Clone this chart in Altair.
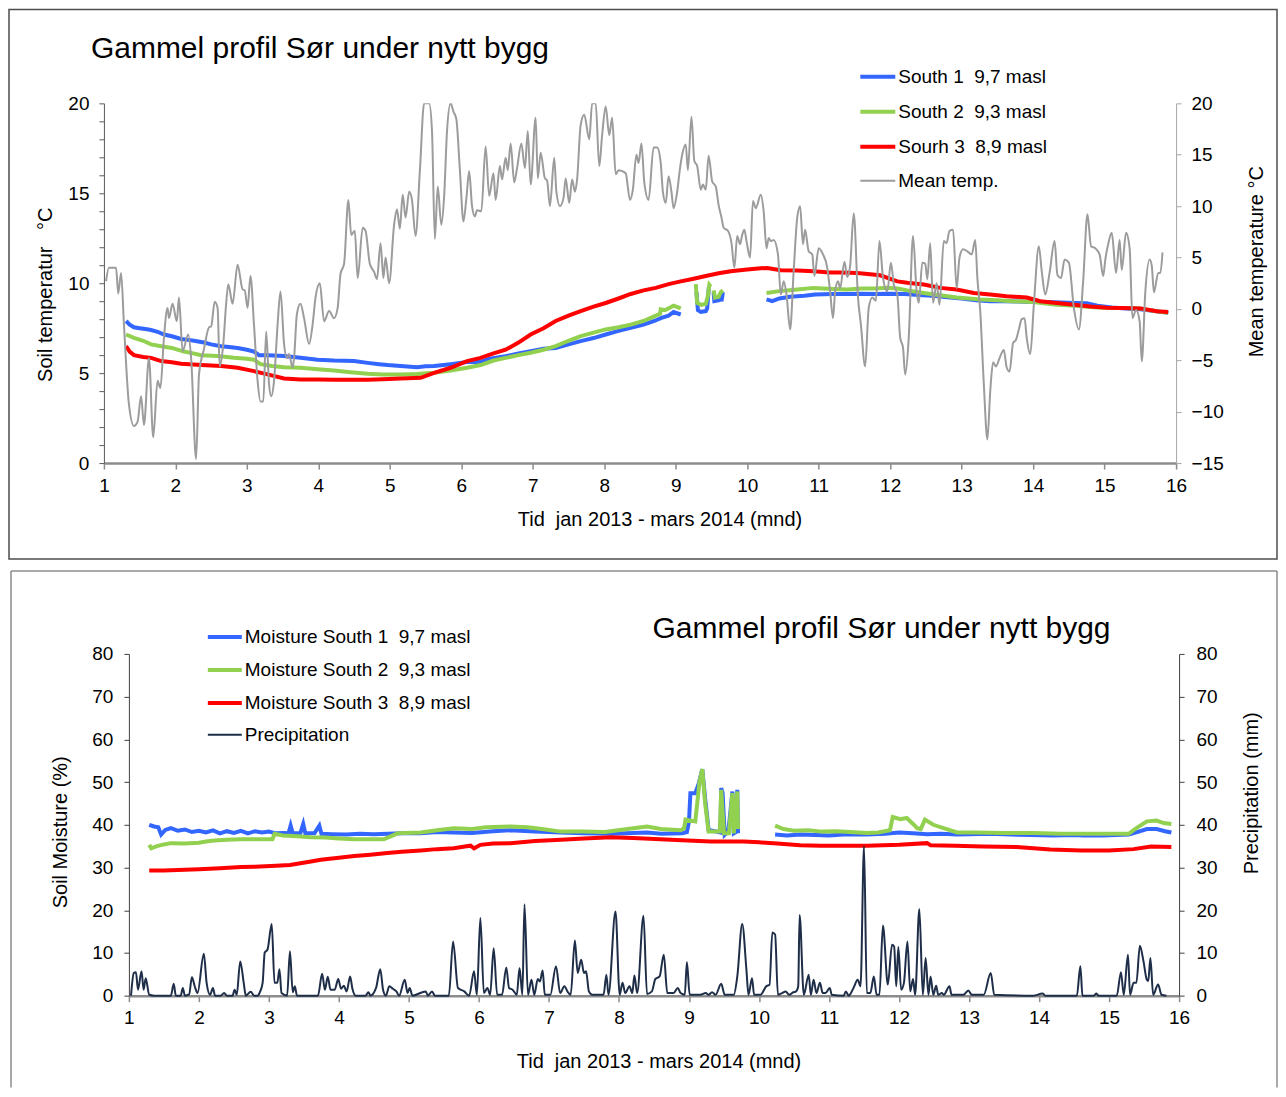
import altair as alt
import pandas as pd

FONT = "Liberation Sans"
NB = "\u00a0"
TITLE = "Gammel profil Sør under nytt bygg"
XTITLE = "Tid" + NB + " jan 2013 - mars 2014 (mnd)"
month_ticks = list(range(1, 17))

# ---------------- top panel: soil temperature ----------------
S1 = "South 1" + NB + " 9,7 masl"
S2 = "South 2" + NB + " 9,3 masl"
S3 = "Sourh 3" + NB + " 8,9 masl"
MT = "Mean temp."

south1_temp = [
    [(1.31, 7.9), (1.36, 7.7), (1.42, 7.55), (1.50, 7.5), (1.58, 7.45), (1.66, 7.4), (1.75, 7.3),
     (1.84, 7.15), (1.95, 7.05), (2.08, 6.9), (2.18, 6.85), (2.26, 6.8), (2.40, 6.7), (2.50, 6.6),
     (2.64, 6.5), (2.75, 6.45), (2.87, 6.4), (3.00, 6.3), (3.10, 6.2), (3.17, 6.0), (3.30, 6.0),
     (3.52, 5.95), (3.75, 5.85), (3.99, 5.75), (4.22, 5.7), (4.50, 5.67), (4.69, 5.57), (4.85, 5.5),
     (4.97, 5.45), (5.15, 5.4), (5.38, 5.33), (5.50, 5.38), (5.62, 5.4), (5.85, 5.5), (6.08, 5.62),
     (6.27, 5.62), (6.40, 5.8), (6.62, 5.94), (6.80, 6.1), (6.97, 6.22), (7.15, 6.35), (7.32, 6.4),
     (7.50, 6.6), (7.67, 6.78), (7.85, 6.95), (8.02, 7.15), (8.20, 7.35), (8.37, 7.52), (8.55, 7.7),
     (8.70, 7.9), (8.80, 8.07), (8.90, 8.2), (8.97, 8.4), (9.07, 8.26)],
    [(9.29, 9.5), (9.31, 8.5), (9.35, 8.4), (9.42, 8.45), (9.44, 8.6), (9.46, 9.6), (9.48, 9.55)],
    [(9.53, 9.5), (9.54, 9.0), (9.60, 9.05), (9.62, 9.35), (9.64, 9.0), (9.66, 9.5)],
    [(10.27, 9.1), (10.35, 9.0), (10.45, 9.15), (10.6, 9.25), (10.8, 9.3), (10.95, 9.37), (11.2, 9.4),
     (11.4, 9.4), (11.6, 9.42), (11.8, 9.4), (12.0, 9.42), (12.2, 9.4), (12.4, 9.35), (12.6, 9.3),
     (12.8, 9.22), (13.0, 9.15), (13.2, 9.05), (13.4, 9.0), (13.6, 9.0), (13.8, 8.98), (14.0, 8.96),
     (14.2, 8.95), (14.4, 8.93), (14.6, 8.9), (14.75, 8.88), (14.9, 8.75), (15.1, 8.65), (15.3, 8.6),
     (15.5, 8.55), (15.7, 8.45), (15.89, 8.35)],
]

south2_temp = [
    [(1.31, 7.15), (1.42, 6.96), (1.55, 6.8), (1.66, 6.6), (1.80, 6.5), (1.95, 6.4), (2.12, 6.2),
     (2.25, 6.1), (2.36, 6.0), (2.59, 5.95), (2.82, 5.85), (3.00, 5.8), (3.10, 5.75), (3.19, 5.5),
     (3.35, 5.4), (3.52, 5.33), (3.75, 5.3), (3.99, 5.22), (4.22, 5.15), (4.45, 5.05), (4.69, 4.96),
     (4.90, 4.93), (5.15, 4.93), (5.38, 4.95), (5.62, 5.02), (5.85, 5.15), (6.08, 5.3), (6.27, 5.45),
     (6.45, 5.7), (6.62, 5.85), (6.80, 6.0), (6.97, 6.13), (7.15, 6.3), (7.32, 6.5), (7.50, 6.8),
     (7.67, 7.06), (7.85, 7.25), (8.02, 7.43), (8.20, 7.55), (8.37, 7.7), (8.55, 7.9), (8.65, 8.07),
     (8.78, 8.3), (8.79, 8.55), (8.85, 8.5), (8.97, 8.75), (9.07, 8.6)],
    [(9.28, 9.95), (9.30, 8.9), (9.36, 8.8), (9.42, 8.85), (9.45, 9.3), (9.47, 9.9), (9.49, 9.8)],
    [(9.53, 9.6), (9.55, 9.2), (9.60, 9.25), (9.63, 9.5), (9.66, 9.6)],
    [(10.27, 9.46), (10.45, 9.56), (10.7, 9.65), (10.93, 9.74), (11.2, 9.68), (11.4, 9.65), (11.6, 9.7),
     (11.8, 9.7), (11.95, 9.75), (12.1, 9.7), (12.24, 9.6), (12.47, 9.46), (12.7, 9.33), (12.93, 9.2),
     (13.1, 9.15), (13.26, 9.1), (13.5, 9.05), (13.7, 9.0), (14.0, 8.96), (14.33, 8.8), (14.6, 8.75),
     (14.8, 8.68), (15.0, 8.63), (15.3, 8.62), (15.5, 8.6), (15.7, 8.45), (15.89, 8.35)],
]

south3_temp = [
    [(1.31, 6.5), (1.36, 6.2), (1.42, 6.0), (1.55, 5.9), (1.66, 5.85), (1.80, 5.67), (1.95, 5.6),
     (2.08, 5.52), (2.36, 5.45), (2.64, 5.4), (2.87, 5.3), (3.10, 5.11), (3.29, 4.93), (3.52, 4.7),
     (3.75, 4.65), (4.0, 4.64), (4.22, 4.63), (4.5, 4.63), (4.69, 4.63), (4.9, 4.66), (5.15, 4.7),
     (5.43, 4.74), (5.62, 5.02), (5.85, 5.3), (6.08, 5.67), (6.27, 5.85), (6.45, 6.1), (6.62, 6.3),
     (6.80, 6.7), (6.97, 7.15), (7.15, 7.5), (7.32, 7.9), (7.50, 8.2), (7.67, 8.45), (7.85, 8.7),
     (8.02, 8.9), (8.20, 9.15), (8.37, 9.4), (8.55, 9.6), (8.72, 9.74), (8.9, 9.95), (9.07, 10.1),
     (9.25, 10.25), (9.42, 10.4), (9.6, 10.55), (9.77, 10.67), (10.0, 10.76), (10.15, 10.82),
     (10.28, 10.85), (10.47, 10.72), (10.7, 10.7), (10.93, 10.67), (11.15, 10.6), (11.30, 10.6),
     (11.54, 10.57), (11.86, 10.44), (12.1, 10.1), (12.24, 10.02), (12.47, 9.93), (12.7, 9.74),
     (12.93, 9.65), (13.17, 9.46), (13.4, 9.37), (13.63, 9.28), (13.91, 9.2), (14.1, 9.0),
     (14.33, 8.9), (14.57, 8.8), (14.8, 8.7), (15.03, 8.63), (15.25, 8.62), (15.5, 8.6),
     (15.73, 8.44), (15.89, 8.4)],
]

mean_temp = [
    (1.03, 2.7), (1.07, 4.0), (1.17, 4.0), (1.20, 1.5), (1.24, 3.5), (1.28, -1.5), (1.35, -9.3),
    (1.42, -11.4), (1.47, -11.0), (1.52, -8.5), (1.56, -11.3), (1.63, -4.8), (1.69, -12.5),
    (1.75, -7.0), (1.79, -7.7), (1.84, -2.8), (1.89, 0.1), (1.91, -0.9), (1.96, 0.5), (2.02, -1.2),
    (2.05, 1.1), (2.10, -4.1), (2.18, -2.5), (2.22, -4.8), (2.29, -14.6), (2.33, -6.4), (2.40, -3.9),
    (2.47, -1.8), (2.50, -1.7), (2.55, 0.7), (2.59, 0.1), (2.62, -5.6), (2.67, -3.4), (2.71, 0.5),
    (2.74, 2.4), (2.80, 0.5), (2.87, 4.3), (2.94, 1.9), (2.97, 1.8), (3.01, 0.1), (3.05, 3.2),
    (3.10, -1.6), (3.15, -7.0), (3.19, -9.0), (3.23, -9.0), (3.27, -2.2), (3.31, -7.3), (3.34, -8.5),
    (3.38, -7.0), (3.43, -1.5), (3.47, 1.7), (3.52, -3.4), (3.56, -4.8), (3.59, -4.4), (3.64, -5.7),
    (3.66, -4.8), (3.70, -0.5), (3.75, 0.5), (3.80, -0.9), (3.87, -3.4), (3.92, -1.5), (3.96, 1.1),
    (4.02, 2.5), (4.08, -1.2), (4.15, -0.2), (4.22, -0.9), (4.27, 0.1), (4.31, 3.4), (4.36, 4.4),
    (4.42, 10.6), (4.46, 7.2), (4.51, 7.6), (4.55, 3.0), (4.62, 7.9), (4.66, 7.6), (4.72, 4.4),
    (4.78, 3.6), (4.82, 2.9), (4.87, 6.4), (4.91, 3.0), (4.94, 5.0), (4.99, 2.5), (5.06, 8.2),
    (5.10, 9.7), (5.14, 7.8), (5.18, 11.1), (5.22, 8.9), (5.27, 11.4), (5.31, 10.6), (5.36, 7.1),
    (5.42, 13.4), (5.48, 20.0), (5.55, 20.0), (5.59, 17.3), (5.63, 6.8), (5.67, 11.9), (5.72, 8.2),
    (5.76, 11.0), (5.80, 17.3), (5.85, 20.0), (5.89, 19.2), (5.93, 18.5), (5.98, 13.5), (6.03, 8.5),
    (6.07, 10.7), (6.11, 13.4), (6.15, 10.0), (6.19, 9.0), (6.22, 9.6), (6.28, 9.5), (6.34, 15.8),
    (6.39, 11.0), (6.45, 13.2), (6.48, 10.6), (6.54, 13.9), (6.57, 12.6), (6.62, 14.7), (6.65, 13.5),
    (6.69, 16.1), (6.74, 12.3), (6.78, 13.7), (6.84, 16.1), (6.89, 13.7), (6.93, 17.3), (6.97, 12.1),
    (7.04, 18.6), (7.07, 12.7), (7.11, 15.2), (7.17, 12.7), (7.20, 12.5), (7.24, 10.0), (7.30, 14.7),
    (7.33, 11.4), (7.38, 10.0), (7.43, 10.8), (7.46, 12.7), (7.51, 10.3), (7.55, 12.6), (7.59, 11.4),
    (7.62, 12.6), (7.67, 17.9), (7.72, 18.9), (7.79, 16.5), (7.83, 20.0), (7.88, 20.0), (7.93, 13.9),
    (7.97, 16.9), (8.02, 19.7), (8.07, 16.9), (8.11, 18.6), (8.16, 13.1), (8.20, 13.5), (8.25, 13.4),
    (8.30, 13.2), (8.36, 10.6), (8.40, 11.6), (8.45, 15.0), (8.48, 14.2), (8.52, 16.1), (8.56, 12.3),
    (8.62, 10.6), (8.69, 15.7), (8.74, 15.7), (8.79, 14.2), (8.82, 11.4), (8.86, 10.3), (8.90, 12.9),
    (8.94, 11.4), (8.97, 9.8), (9.02, 11.4), (9.06, 13.7), (9.09, 15.0), (9.14, 16.0), (9.17, 13.5),
    (9.22, 18.7), (9.26, 14.4), (9.30, 13.9), (9.35, 11.6), (9.38, 12.1), (9.42, 11.6), (9.46, 14.9),
    (9.51, 12.4), (9.56, 11.9), (9.60, 10.1), (9.64, 8.9), (9.67, 7.9), (9.73, 7.6), (9.78, 6.4),
    (9.82, 4.0), (9.86, 7.1), (9.90, 6.3), (9.93, 7.2), (9.96, 7.7), (9.99, 6.6), (10.04, 5.0),
    (10.08, 10.5), (10.12, 9.8), (10.19, 11.1), (10.23, 9.5), (10.27, 5.9), (10.30, 6.9),
    (10.33, 6.6), (10.37, 6.7), (10.43, 5.3), (10.47, 1.4), (10.51, 2.7), (10.55, 1.4), (10.60, -2.0),
    (10.65, 3.7), (10.70, 8.9), (10.74, 10.0), (10.78, 6.3), (10.81, 7.7), (10.86, 5.6), (10.91, 5.3),
    (10.94, 3.2), (11.00, 5.9), (11.06, 5.3), (11.12, 4.0), (11.16, 1.7), (11.20, -0.9), (11.23, 1.7),
    (11.27, 2.7), (11.30, 2.0), (11.36, 4.6), (11.40, 3.1), (11.44, 4.2), (11.49, 9.3), (11.55, 1.1),
    (11.59, -1.5), (11.65, -5.6), (11.70, 0.1), (11.75, 1.1), (11.80, 0.8), (11.85, 6.6), (11.90, 3.0),
    (11.96, 1.7), (12.01, 4.5), (12.05, 2.4), (12.10, 1.4), (12.14, -2.8), (12.18, -3.8),
    (12.21, -6.4), (12.26, -2.8), (12.32, 7.1), (12.37, 1.7), (12.40, 0.6), (12.45, 4.5), (12.49, 4.4),
    (12.52, 2.9), (12.56, 6.4), (12.60, 0.6), (12.65, 2.5), (12.69, 0.4), (12.75, 6.6), (12.79, 6.4),
    (12.83, 7.6), (12.88, 7.7), (12.93, 2.0), (12.97, 5.0), (13.02, 5.8), (13.08, 5.6), (13.14, 5.3),
    (13.19, 6.7), (13.22, 3.0), (13.26, -0.2), (13.31, -7.3), (13.36, -12.7), (13.40, -8.0),
    (13.44, -5.2), (13.48, -5.6), (13.53, -4.8), (13.59, -4.0), (13.63, -5.7), (13.67, -6.1),
    (13.72, -3.3), (13.76, -3.0), (13.80, -2.0), (13.84, -1.0), (13.88, -0.9), (13.91, -2.8),
    (13.96, -4.4), (14.01, 0.4), (14.08, 6.1), (14.12, 3.7), (14.17, 1.4), (14.23, 3.5), (14.30, 6.6),
    (14.34, 3.3), (14.39, 3.0), (14.44, 4.8), (14.50, 4.5), (14.57, 0.1), (14.64, -2.0), (14.70, 2.7),
    (14.76, 9.2), (14.81, 6.1), (14.87, 5.9), (14.93, 5.3), (14.98, 3.2), (15.01, 4.8), (15.05, 6.3),
    (15.10, 7.4), (15.16, 3.5), (15.21, 6.7), (15.24, 3.8), (15.30, 7.4), (15.35, 5.9), (15.39, -0.9),
    (15.44, -0.1), (15.49, -1.2), (15.52, -5.1), (15.57, 1.7), (15.63, 4.8), (15.66, 4.2),
    (15.69, 1.6), (15.75, 3.5), (15.78, 3.5), (15.81, 5.5),
]

# ---------------- bottom panel: soil moisture ----------------
M1 = "Moisture South 1" + NB + " 9,7 masl"
M2 = "Moisture South 2" + NB + " 9,3 masl"
M3 = "Moisture South 3" + NB + " 8,9 masl"
PR = "Precipitation"

south1_moist = [
    [(1.29, 40.0), (1.36, 39.6), (1.42, 39.4), (1.46, 37.7), (1.52, 38.8), (1.60, 39.2), (1.70, 38.6),
     (1.80, 38.9), (1.90, 38.3), (2.00, 38.6), (2.10, 38.2), (2.20, 38.7), (2.30, 38.0), (2.40, 38.5),
     (2.50, 38.1), (2.60, 38.6), (2.70, 38.0), (2.80, 38.5), (2.90, 38.2), (3.00, 38.4), (3.10, 38.0),
     (3.20, 38.1), (3.28, 38.0), (3.31, 39.8), (3.34, 38.0), (3.45, 38.1), (3.49, 40.2), (3.52, 38.0),
     (3.65, 38.0), (3.72, 39.8), (3.75, 37.9), (3.9, 37.8), (4.1, 37.7), (4.3, 37.9), (4.5, 37.8),
     (4.7, 37.9), (4.9, 38.0), (5.17, 38.0), (5.4, 38.3), (5.64, 38.2), (5.9, 38.1), (6.2, 38.5),
     (6.45, 38.7), (6.8, 38.4), (7.17, 38.2), (7.5, 38.0), (7.88, 37.9), (8.1, 38.0), (8.40, 38.2),
     (8.6, 37.9), (8.90, 38.0), (8.97, 38.3), (9.00, 40.8), (9.02, 47.4), (9.09, 47.4), (9.14, 49.7),
     (9.19, 53.0), (9.23, 46.2), (9.28, 38.8), (9.45, 38.2), (9.46, 48.6), (9.48, 47.5), (9.51, 37.7),
     (9.56, 38.5), (9.58, 41.2), (9.62, 47.8), (9.64, 38.0), (9.66, 38.2), (9.69, 48.2), (9.70, 38.0)],
    [(10.23, 37.7), (10.4, 37.5), (10.59, 37.7), (10.8, 37.6), (11.0, 37.5), (11.2, 37.7),
     (11.54, 37.7), (11.8, 37.9), (12.0, 38.2), (12.2, 38.0), (12.4, 37.8), (12.6, 37.9),
     (12.83, 37.7), (13.0, 37.8), (13.3, 37.9), (13.6, 37.7), (13.9, 37.6), (14.2, 37.5),
     (14.5, 37.6), (14.63, 37.5), (14.9, 37.5), (15.28, 37.7), (15.4, 38.3), (15.54, 39.0),
     (15.68, 39.0), (15.8, 38.5), (15.89, 38.2)],
]

south2_moist = [
    [(1.29, 35.3), (1.32, 34.5), (1.40, 35.0), (1.50, 35.4), (1.60, 35.7), (1.80, 35.6), (2.00, 35.8),
     (2.10, 36.1), (2.22, 36.3), (2.40, 36.5), (2.60, 36.6), (2.80, 36.6), (3.00, 36.6), (3.05, 36.6),
     (3.08, 37.9), (3.20, 37.5), (3.40, 37.3), (3.60, 37.1), (3.80, 37.0), (4.0, 36.8), (4.22, 36.6),
     (4.45, 36.6), (4.64, 36.6), (4.84, 38.0), (5.17, 38.2), (5.4, 38.7), (5.64, 39.2), (5.9, 39.0),
     (6.1, 39.4), (6.45, 39.6), (6.7, 39.4), (6.9, 39.0), (7.17, 38.4), (7.5, 38.4), (7.8, 38.3),
     (8.12, 39.0), (8.40, 39.6), (8.6, 39.0), (8.88, 38.7), (8.93, 39.2), (8.95, 41.2), (9.09, 40.8),
     (9.15, 50.1), (9.19, 53.0), (9.23, 45.1), (9.28, 38.4), (9.44, 38.4), (9.46, 48.2), (9.50, 38.0),
     (9.57, 38.0), (9.62, 47.4), (9.64, 38.0), (9.69, 47.8), (9.70, 39.0)],
    [(10.23, 39.8), (10.35, 39.0), (10.5, 38.6), (10.7, 38.7), (10.9, 38.4), (11.1, 38.5), (11.3, 38.3),
     (11.54, 38.1), (11.7, 38.2), (11.87, 38.7), (11.91, 41.8), (12.02, 41.3), (12.11, 41.6),
     (12.2, 40.2), (12.26, 39.2), (12.31, 39.0), (12.37, 41.2), (12.49, 40.0), (12.68, 39.0),
     (12.83, 38.2), (13.1, 38.2), (13.5, 38.1), (13.92, 38.1), (14.3, 37.9), (14.63, 37.9),
     (15.0, 37.9), (15.28, 37.9), (15.39, 39.2), (15.54, 40.8), (15.68, 41.0), (15.78, 40.4),
     (15.89, 40.2)],
]

south3_moist = [
    [(1.29, 29.3), (1.5, 29.3), (1.8, 29.5), (2.0, 29.6), (2.3, 29.8), (2.6, 30.1), (2.8, 30.2),
     (3.1, 30.4), (3.3, 30.6), (3.45, 31.0), (3.6, 31.4), (3.74, 31.8), (4.0, 32.3), (4.22, 32.7),
     (4.45, 33.0), (4.69, 33.4), (4.9, 33.7), (5.17, 34.0), (5.4, 34.3), (5.64, 34.5), (5.8, 34.9),
     (5.88, 35.1), (5.93, 34.5), (6.02, 35.3), (6.2, 35.6), (6.45, 35.7), (6.8, 36.2), (7.17, 36.5),
     (7.5, 36.8), (7.88, 37.1), (8.2, 36.9), (8.59, 36.6), (8.9, 36.4), (9.31, 36.1), (9.78, 36.1),
     (10.0, 35.9), (10.26, 35.6), (10.59, 35.2), (10.88, 35.1), (11.2, 35.1), (11.54, 35.1),
     (12.0, 35.3), (12.40, 35.7), (12.45, 35.2), (12.8, 35.1), (13.2, 34.9), (13.68, 34.8),
     (14.16, 34.2), (14.6, 34.0), (15.0, 34.0), (15.35, 34.3), (15.6, 34.9), (15.89, 34.8)],
]

precipitation = [
    (1.03, 0), (1.07, 5.3), (1.10, 5.5), (1.13, 1.4), (1.18, 5.7), (1.21, 1.4), (1.24, 4.1),
    (1.29, 0.2), (1.36, 0), (1.60, 0), (1.64, 2.8), (1.67, 0), (1.74, 0), (1.77, 1.8), (1.80, 0),
    (1.86, 0.3), (1.90, 4.3), (1.94, 2.2), (1.98, 0.6), (2.07, 9.8), (2.11, 3.0), (2.16, 0.2),
    (2.20, 1.8), (2.23, 0), (2.31, 0), (2.36, 0.6), (2.40, 0), (2.48, 0), (2.51, 1.4), (2.54, 0.2),
    (2.59, 8.0), (2.64, 3.0), (2.67, 0), (2.74, 0.9), (2.79, 0), (2.84, 0), (2.87, 0.8), (2.91, 3.0),
    (2.94, 10.1), (2.98, 10.8), (3.04, 16.8), (3.08, 3.0), (3.12, 3.0), (3.15, 6.2), (3.18, 0.6),
    (3.26, 0), (3.30, 10.4), (3.34, 0.8), (3.37, 2.2), (3.40, 0), (3.70, 0), (3.76, 5.1), (3.80, 1.4),
    (3.84, 4.4), (3.88, 1.4), (3.94, 1.4), (3.99, 3.9), (4.03, 1.6), (4.07, 2.3), (4.11, 1.0),
    (4.16, 4.5), (4.19, 1.8), (4.24, 0), (4.38, 0), (4.42, 0.8), (4.45, 0), (4.53, 1.8), (4.59, 6.2),
    (4.63, 1.4), (4.67, 0), (4.72, 2.2), (4.77, 1.6), (4.82, 1.0), (4.86, 0), (4.94, 3.7), (4.98, 0.6),
    (5.01, 1.8), (5.05, 0), (5.24, 1.0), (5.27, 0), (5.33, 1.0), (5.37, 0), (5.57, 0), (5.63, 12.7),
    (5.70, 1.8), (5.79, 1.0), (5.86, 0), (5.93, 5.7), (5.97, 0.2), (6.02, 18.2), (6.07, 0.6),
    (6.12, 1.8), (6.16, 0.2), (6.21, 11.1), (6.26, 0.2), (6.33, 0.2), (6.39, 6.6), (6.43, 1.8),
    (6.48, 1.4), (6.54, 0.2), (6.58, 6.5), (6.62, 0.2), (6.65, 21.4), (6.70, 0.2), (6.75, 3.7),
    (6.79, 0.2), (6.84, 3.9), (6.87, 3.3), (6.91, 5.9), (6.94, 0.2), (7.02, 0.2), (7.10, 6.9),
    (7.16, 0.6), (7.22, 2.2), (7.27, 0.8), (7.31, 0.2), (7.37, 12.9), (7.41, 5.3), (7.46, 8.4),
    (7.50, 5.3), (7.53, 5.7), (7.57, 1.0), (7.62, 0.2), (7.78, 0.2), (7.82, 4.9), (7.85, 0.2),
    (7.95, 19.7), (8.01, 0.2), (8.05, 3.0), (8.09, 0.6), (8.15, 2.2), (8.19, 0.6), (8.22, 4.7),
    (8.26, 0.6), (8.35, 18.7), (8.40, 0.4), (8.47, 1.0), (8.52, 3.9), (8.58, 4.5), (8.64, 9.6),
    (8.69, 0.6), (8.78, 0.6), (8.84, 1.8), (8.88, 0.6), (8.94, 0.2), (8.97, 7.8), (9.01, 0.2),
    (9.16, 0.2), (9.24, 0.6), (9.28, 0.2), (9.33, 0.8), (9.38, 0.2), (9.46, 2.8), (9.51, 0.2),
    (9.64, 0.2), (9.69, 4.5), (9.76, 16.8), (9.82, 6.1), (9.85, 0.2), (9.90, 4.1), (9.93, 0.2),
    (10.02, 0.2), (10.11, 2.3), (10.15, 2.5), (10.19, 14.8), (10.23, 14.3), (10.27, 0.2),
    (10.33, 0.6), (10.38, 1.0), (10.43, 0.2), (10.49, 0.8), (10.53, 1.0), (10.56, 2.2), (10.58, 18.9),
    (10.64, 0.2), (10.71, 4.9), (10.74, 0.2), (10.78, 3.7), (10.82, 0.6), (10.87, 3.0), (10.91, 0.6),
    (10.95, 0.6), (11.01, 1.8), (11.04, 0.2), (11.21, 0), (11.24, 1.0), (11.28, 0), (11.35, 1.8),
    (11.41, 3.7), (11.45, 2.2), (11.50, 35.0), (11.54, 0.6), (11.59, 0.6), (11.64, 4.5), (11.68, 0.2),
    (11.72, 0.2), (11.77, 16.4), (11.84, 2.6), (11.90, 11.9), (11.93, 11.5), (11.96, 2.2),
    (11.99, 11.4), (12.03, 1.4), (12.07, 3.0), (12.12, 12.7), (12.16, 1.0), (12.20, 3.9),
    (12.23, 0.2), (12.29, 20.3), (12.34, 0.2), (12.38, 8.8), (12.42, 0.2), (12.45, 4.5), (12.49, 0.2),
    (12.53, 2.3), (12.56, 0.2), (12.61, 0.6), (12.64, 0.2), (12.72, 2.2), (12.75, 0.2), (12.92, 0.2),
    (12.99, 1.2), (13.04, 0.2), (13.21, 0.2), (13.31, 5.3), (13.36, 0.2), (13.92, 0), (14.05, 0.5),
    (14.09, 0), (14.54, 0), (14.59, 6.9), (14.62, 0), (14.78, 0), (14.82, 0.5), (14.85, 0),
    (15.11, 0), (15.17, 5.5), (15.21, 0.2), (15.27, 9.6), (15.30, 0.2), (15.35, 3.0), (15.39, 3.0),
    (15.44, 11.7), (15.49, 8.2), (15.54, 3.7), (15.56, 3.4), (15.59, 8.8), (15.63, 0.2), (15.70, 2.6),
    (15.75, 0.2), (15.82, 0),
]


def table(parts, name):
    rows = []
    for k, part in enumerate(parts):
        for m, v in part:
            rows.append({"month": m, "value": v, "series": name, "seg": k})
    return rows


soil_df = pd.DataFrame(table(south1_temp, S1) + table(south2_temp, S2) + table(south3_temp, S3))
mean_df = pd.DataFrame(table([mean_temp], MT))
moist_df = pd.DataFrame(table(south1_moist, M1) + table(south2_moist, M2) + table(south3_moist, M3))
prec_df = pd.DataFrame(table([precipitation], PR))
one = alt.Data(values=[{"k": 1}])

LBL = dict(labelFont=FONT, labelFontSize=19, labelColor="#000000",
           titleFont=FONT, titleFontSize=20, titleFontWeight="normal", titleColor="#000000")


def x_enc(x_range, title_x, title_y):
    return alt.X("month:Q", scale=alt.Scale(domain=[1, 16], nice=False, zero=False, range=x_range),
                 axis=alt.Axis(values=month_ticks, format="d", grid=False, title=XTITLE,
                               domainColor="#8c8c8c", domainWidth=2.5, tickColor="#8c8c8c",
                               tickSize=6, tickWidth=1.5, labelPadding=7, labelFlush=False,
                               titleX=title_x, titleY=title_y, titleBaseline="top", **LBL))


def make_legend(lx, ly, size, rowpad):
    return alt.Legend(title=None, orient="none", legendX=lx, legendY=ly, symbolType="stroke",
                      symbolSize=size, labelFont=FONT, labelFontSize=19, labelColor="#000000",
                      labelOffset=1, labelLimit=400, rowPadding=rowpad, padding=0)


def rule(x1, x2, y1, y2, color):
    return alt.Chart(one).mark_rule(color=color, strokeWidth=1.5).encode(
        x=alt.value(x1), x2=alt.value(x2), y=alt.value(y1), y2=alt.value(y2))


# ---------- top chart ----------
TW, TH = 1073, 360
top_dom = [S1, S2, S3, MT]
top_col = ["#3366ff", "#92d050", "#ff0000", "#9c9c9c"]
top_wid = [4, 4, 4, 2]
tleg = make_legend(755, -46, 1225, 5)
tcolor = alt.Color("series:N", scale=alt.Scale(domain=top_dom, range=top_col), legend=tleg)
twidth = alt.StrokeWidth("series:N", scale=alt.Scale(type="ordinal", domain=top_dom, range=top_wid),
                         legend=tleg)
tx = x_enc([0, TW], 556, 46)

top_frame = alt.Chart(one).mark_rect(fillOpacity=0, stroke="#4d4d4d", strokeWidth=1.5).encode(
    x=alt.value(-95), x2=alt.value(1174), y=alt.value(-94), y2=alt.value(456))
top_title = alt.Chart(one).mark_text(text=TITLE, font=FONT, fontSize=30, align="left",
                                     baseline="alphabetic", color="#000000").encode(
    x=alt.value(-13), y=alt.value(-45))
soil = alt.Chart(soil_df).mark_line().encode(
    x=tx,
    y=alt.Y("value:Q", scale=alt.Scale(domain=[0, 20], nice=False),
            axis=alt.Axis(orient="left", values=list(range(0, 21)), grid=False,
                          labelExpr="datum.value % 5 == 0 ? datum.label : ''",
                          title="Soil temperatur" + NB + NB + " °C", titleAngle=270, titleX=-58,
                          titleY=191, titleAlign="center", titleBaseline="middle",
                          domainColor="#595959", tickColor="#595959", tickSize=5,
                          labelPadding=10, **LBL)),
    color=tcolor, strokeWidth=twidth, detail="seg:N")
mean = alt.Chart(mean_df).mark_line(interpolate="monotone", clip=True).encode(
    x=tx,
    y=alt.Y("value:Q", scale=alt.Scale(domain=[-15, 20], nice=False),
            axis=alt.Axis(orient="right", values=list(range(-15, 21, 5)), grid=False,
                          title="Mean temperature °C", titleAngle=270, titleX=80, titleY=158,
                          titleAlign="center", titleBaseline="middle",
                          domainColor="#a6a6a6", tickColor="#a6a6a6", tickSize=5,
                          labelPadding=10, **LBL)),
    color=tcolor, strokeWidth=twidth)
top = alt.layer(top_frame, top_title, soil, mean).resolve_scale(y="independent").properties(
    width=TW, height=TH)

# ---------- bottom chart ----------
SH = 25                      # bottom plot starts 25 px further right than the top one
BW, BH = SH + 1051, 342
bot_dom = [M1, M2, M3, PR]
bot_col = ["#3366ff", "#92d050", "#ff0000", "#1f2e48"]
bot_wid = [4, 4, 4, 2]
bleg = make_legend(SH + 77, -36, 1156, 4)
bcolor = alt.Color("series:N", scale=alt.Scale(domain=bot_dom, range=bot_col), legend=bleg)
bwidth = alt.StrokeWidth("series:N", scale=alt.Scale(type="ordinal", domain=bot_dom, range=bot_wid),
                         legend=bleg)
bx = x_enc([SH, BW], 555, 56)

frame_l = rule(-93, -93, -83, 434, "#8c8c8c")
frame_t = rule(-93, 1174, -83, -83, "#8c8c8c")
frame_r = rule(1174, 1174, -83, 434, "#8c8c8c")
bot_title = alt.Chart(one).mark_text(text=TITLE, font=FONT, fontSize=30, align="left",
                                     baseline="alphabetic", color="#000000").encode(
    x=alt.value(SH + 524), y=alt.value(-16))
moist = alt.Chart(moist_df).mark_line().encode(
    x=bx,
    y=alt.Y("value:Q", scale=alt.Scale(domain=[0, 80], nice=False),
            axis=alt.Axis(orient="left", offset=-SH, values=list(range(0, 81, 10)), grid=False,
                          title="Soil Moisture (%)", titleAngle=270, titleX=-68, titleY=178,
                          titleAlign="center", titleBaseline="middle",
                          domainColor="#404040", tickColor="#404040", tickSize=5,
                          labelPadding=11, **LBL)),
    color=bcolor, strokeWidth=bwidth, detail="seg:N")
prec = alt.Chart(prec_df).mark_line(interpolate="monotone").encode(
    x=bx,
    y=alt.Y("value:Q", scale=alt.Scale(domain=[0, 80], nice=False),
            axis=alt.Axis(orient="right", values=list(range(0, 81, 10)), grid=False,
                          title="Precipitation (mm)", titleAngle=270, titleX=72, titleY=139,
                          titleAlign="center", titleBaseline="middle",
                          domainColor="#404040", tickColor="#404040", tickSize=5,
                          labelPadding=12, **LBL)),
    color=bcolor, strokeWidth=bwidth)
bottom = alt.layer(frame_l, frame_t, frame_r, bot_title, moist, prec).resolve_scale(
    y="independent").properties(width=BW, height=BH)

chart = alt.vconcat(top, bottom, spacing=10).resolve_scale(
    color="independent", strokeWidth="independent").properties(padding=0).configure_view(strokeWidth=0)
chart.save("out.html", embed_options={"renderer": "svg", "actions": False})
